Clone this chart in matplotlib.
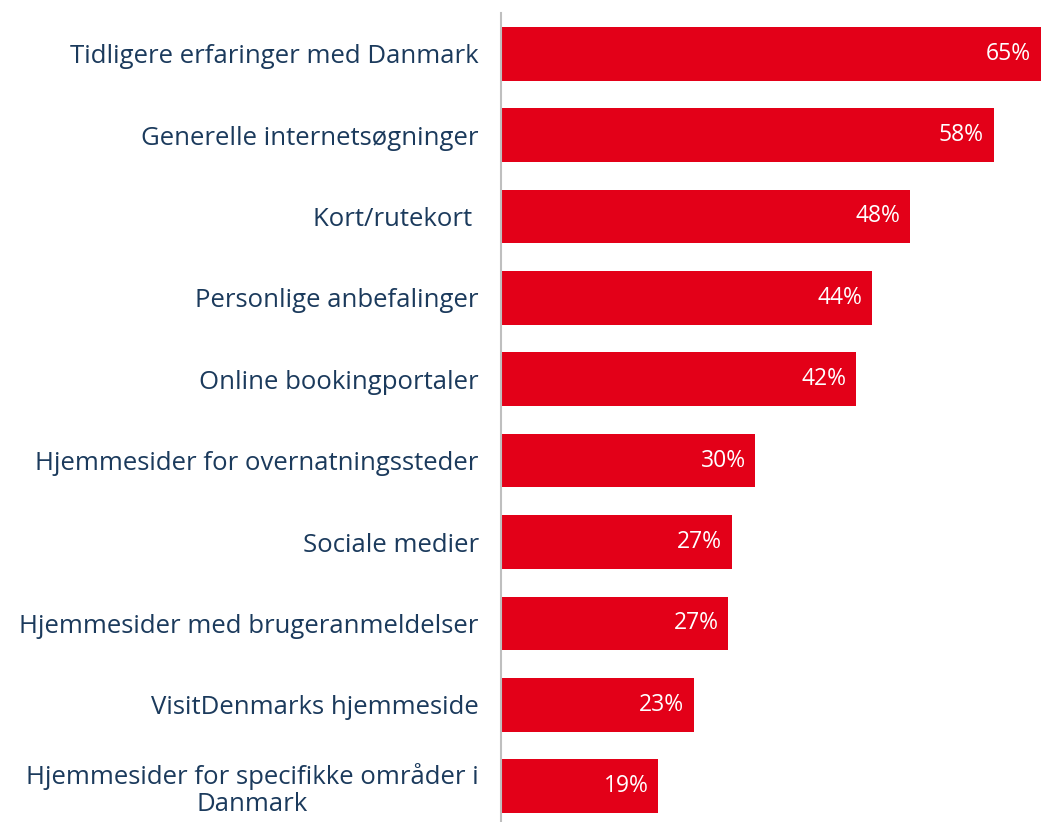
import matplotlib.pyplot as plt
import numpy as np

# kilder brugt til planlægning (andel i %)
categories = [
    "Tidligere erfaringer med Danmark",
    "Generelle internetsøgninger",
    "Kort/rutekort ",
    "Personlige anbefalinger",
    "Online bookingportaler",
    "Hjemmesider for overnatningssteder",
    "Sociale medier",
    "Hjemmesider med brugeranmeldelser",
    "VisitDenmarks hjemmeside",
    "Hjemmesider for specifikke områder i\nDanmark",
]
values = [64.6, 58.3, 48.4, 43.9, 42.0, 30.1, 27.3, 26.9, 22.8, 18.6]

red = "#E30018"
navy = "#1B3A5C"

plt.rcParams['font.family'] = ['Open Sans', 'DejaVu Sans']

fig = plt.figure(figsize=(10.41, 8.22), dpi=100)
ax = fig.add_axes([501 / 1041, 0, 540 / 1041, 809 / 822])

y = np.arange(len(categories))
ax.barh(y, values, height=0.66, color=red)

for yi, v in zip(y, values):
    ax.annotate(f"{round(v)}%", xy=(min(v, 63.9), yi), xytext=(-7, 0),
                textcoords="offset points", ha="right", va="center",
                color="white", fontsize=16.5)

ax.set_xlim(0, 63.9)
ax.set_ylim(9.44, -0.5)
ax.set_yticks(y)
ax.set_yticklabels(categories, fontsize=18.5, color=navy, ha="right",
                   multialignment="center", linespacing=1.1)
ax.tick_params(axis="y", length=0, pad=16)
ax.set_xticks([])
for s in ["top", "right", "bottom"]:
    ax.spines[s].set_visible(False)
ax.spines["left"].set_color("#BFBFBF")
ax.spines["left"].set_linewidth(1.5)

fig.savefig("out.png", dpi=100)
